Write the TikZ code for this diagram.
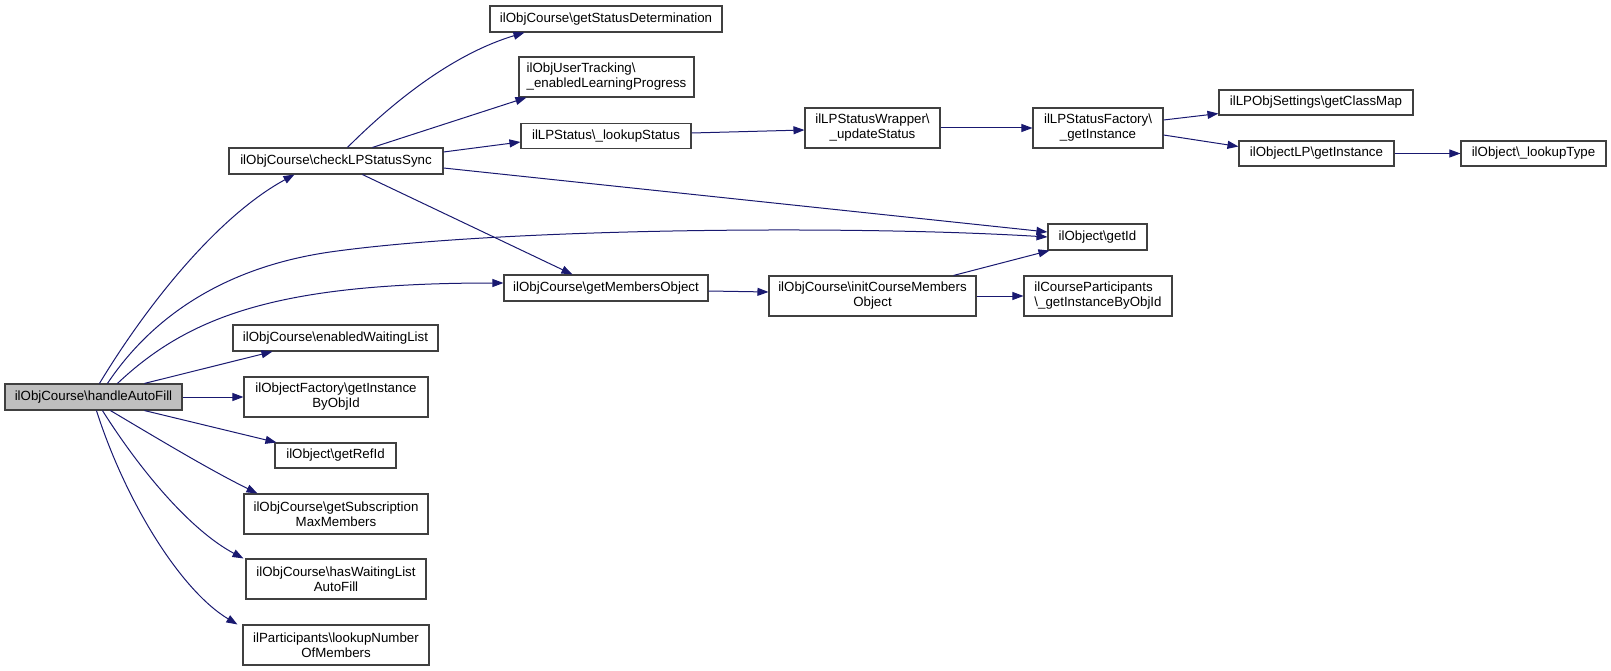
\documentclass[tikz,border=0pt]{standalone}
\usepackage{fontspec}
\setmainfont{Liberation Sans}
\usetikzlibrary{arrows.meta,calc}
\definecolor{edgeblue}{HTML}{191970}
\definecolor{boxline}{HTML}{404040}
\newcommand{\mybs}{\textbackslash}
\begin{document}
\begin{tikzpicture}[x=1pt,y=-1pt,
  box/.style={draw=boxline, line width=1.1pt, fill=white, inner sep=0pt, align=center,
    font=\fontsize{13.3}{15}\selectfont},
  one/.style={box, minimum height=26pt},
  two/.style={box, minimum height=40pt},
  edge/.style={draw=edgeblue, line width=1pt, -{Triangle[length=11pt,width=8pt]}}]
\useasboundingbox (0,0) rectangle (1611,671);
% nodes
\node[one, minimum width=177pt, fill=black!25] (haf) at (93.5,397) {ilObjCourse\mybs handleAutoFill};
\node[one, minimum width=214pt] (cls) at (336,161) {ilObjCourse\mybs checkLPStatusSync};
\node[one, minimum width=232pt] (gsd) at (606,19) {ilObjCourse\mybs getStatusDetermination};
\node[two, minimum width=175pt, align=left] (elp) at (606.5,77) {ilObjUserTracking\mybs\\\_enabledLearningProgress};
\node[one, minimum width=170pt, minimum height=25pt] (lus) at (606,136) {ilLPStatus\mybs\_lookupStatus};
\node[one, minimum width=204pt] (gmo) at (606,288) {ilObjCourse\mybs getMembersObject};
\node[two, minimum width=135pt] (wrp) at (872.5,128) {ilLPStatusWrapper\mybs\\\_updateStatus};
\node[two, minimum width=130pt] (fac) at (1098,128) {ilLPStatusFactory\mybs\\\_getInstance};
\node[one, minimum width=194pt, minimum height=25pt] (gcm) at (1316,102.5) {ilLPObjSettings\mybs getClassMap};
\node[one, minimum width=155pt, minimum height=25pt] (olp) at (1316.5,153.5) {ilObjectLP\mybs getInstance};
\node[one, minimum width=145pt, minimum height=25pt] (lt) at (1533.5,153.5) {ilObject\mybs\_lookupType};
\node[one, minimum width=99pt] (gid) at (1097.5,237) {ilObject\mybs getId};
\node[two, minimum width=207pt] (icm) at (872.5,296) {ilObjCourse\mybs initCourseMembers\\Object};
\node[two, minimum width=148pt, align=left] (cp) at (1098,296) {ilCourseParticipants\\\mybs\_getInstanceByObjId};
\node[one, minimum width=205pt] (ewl) at (335.5,338) {ilObjCourse\mybs enabledWaitingList};
\node[two, minimum width=184pt] (gib) at (336,397) {ilObjectFactory\mybs getInstance\\ByObjId};
\node[one, minimum width=121pt, minimum height=25pt] (gri) at (335.5,455.5) {ilObject\mybs getRefId};
\node[two, minimum width=184pt] (gsm) at (336,514) {ilObjCourse\mybs getSubscription\\MaxMembers};
\node[two, minimum width=180pt] (hwl) at (336,579) {ilObjCourse\mybs hasWaitingList\\AutoFill};
\node[two, minimum width=186pt] (lnm) at (336,645) {ilParticipants\mybs lookupNumber\\OfMembers};
% edges from handleAutoFill
\draw[edge] ($(haf.north west)+(95,0)$) .. controls (150,300) and (220,215) .. ($(cls.south west)+(66,0)$);
\draw[edge] ($(haf.north west)+(103,0)$) .. controls (150,320) and (220,268) .. (330,252)
  .. controls (500,228) and (850,225) .. (gid.west);
\draw[edge] ($(haf.north west)+(113,0)$) .. controls (190,315) and (280,283) .. ($(gmo.west)+(0,-5)$);
\draw[edge] ($(haf.north west)+(140,0)$) -- ($(ewl.south west)+(40,0)$);
\draw[edge] (haf.east) -- (gib.west);
\draw[edge] ($(haf.south west)+(140,0)$) -- ($(gri.north west)+(2,0)$);
\draw[edge] ($(haf.south west)+(106,0)$) .. controls (160,440) and (210,470) .. ($(gsm.north west)+(14,0)$);
\draw[edge] ($(haf.south west)+(98,0)$) .. controls (140,470) and (190,530) .. ($(hwl.north west)+(-2,0)$);
\draw[edge] ($(haf.south west)+(92,0)$) .. controls (125,500) and (180,590) .. ($(lnm.north west)+(-5,0)$);
% edges from checkLPStatusSync
\draw[edge] ($(cls.north west)+(119,0)$) .. controls (390,105) and (450,55) .. ($(gsd.south west)+(35,0)$);
\draw[edge] ($(cls.north west)+(144,0)$) -- ($(elp.south west)+(8,0)$);
\draw[edge] ($(cls.east)+(0,-9)$) -- ($(lus.west)+(0,6)$);
\draw[edge] ($(cls.east)+(0,7)$) -- ($(gid.west)+(0,-5)$);
\draw[edge] ($(cls.south west)+(134,0)$) -- ($(gmo.north west)+(69,0)$);
% middle and right
\draw[edge] ($(lus.east)+(0,-3)$) -- ($(wrp.west)+(0,2)$);
\draw[edge] ($(gmo.east)+(0,3)$) -- ($(icm.west)+(0,-4)$);
\draw[edge] (wrp.east) -- (fac.west);
\draw[edge] ($(icm.north east)+(-23,0)$) -- ($(gid.south west)+(2,0)$);
\draw[edge] (icm.east) -- (cp.west);
\draw[edge] ($(fac.east)+(0,-8)$) -- ($(gcm.south west)+(0,-2)$);
\draw[edge] ($(fac.east)+(0,7)$) -- ($(olp.west)+(0,-7)$);
\draw[edge] (olp.east) -- (lt.west);
\end{tikzpicture}
\end{document}
